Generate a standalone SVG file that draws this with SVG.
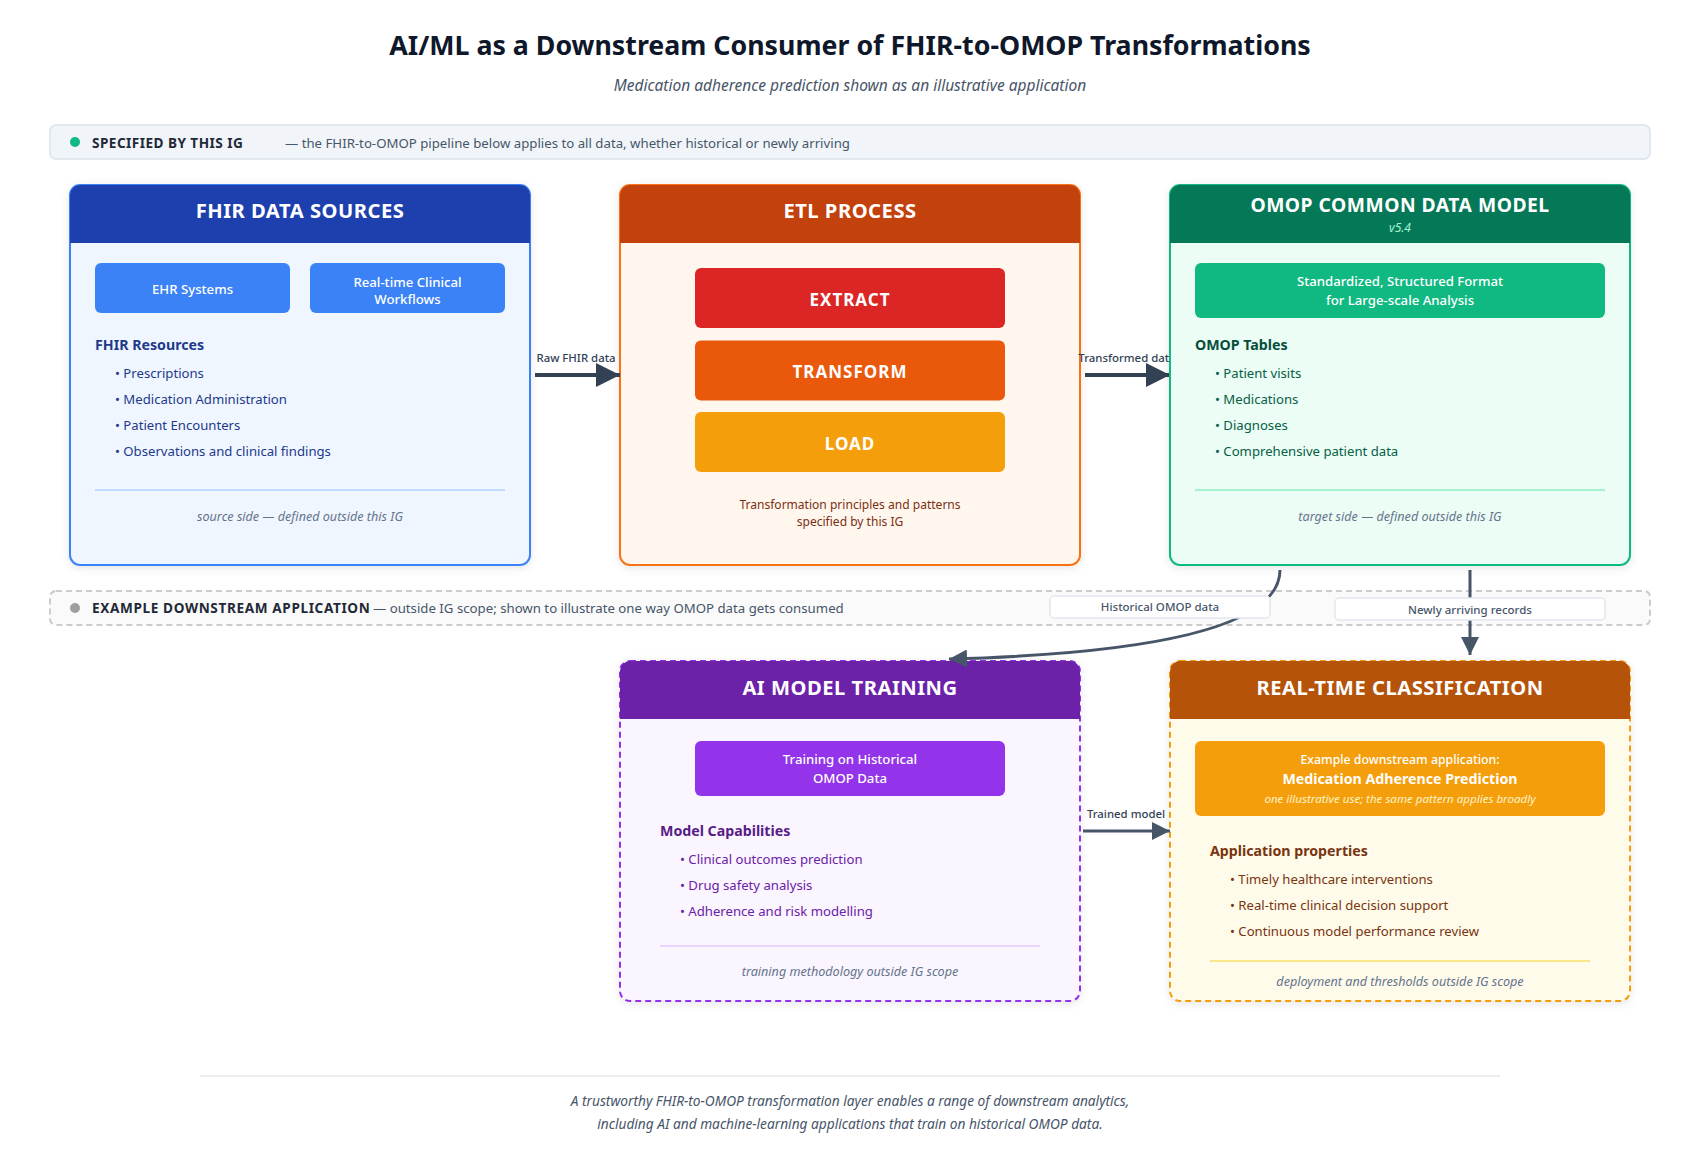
<svg xmlns="http://www.w3.org/2000/svg" width="1700" height="1150" viewBox="0 0 1700 1150">
<style>
text{font-family:"Noto Sans","Open Sans",sans-serif}
.c{text-anchor:middle}
.hd{font-size:20.200px;font-weight:700;fill:#fff;letter-spacing:.5px;text-anchor:middle}
.btn{font-size:13.200px;font-weight:500;fill:#fff;text-anchor:middle}
.etl{font-size:17px;font-weight:700;fill:#fff;letter-spacing:1px;text-anchor:middle}
.sec{font-size:14.200px;font-weight:700}
.it{font-size:13.150px}
.note{font-size:12.600px;font-style:italic;fill:#64748b;text-anchor:middle}
.lbl{font-size:11.400px;fill:#334155;font-weight:500;text-anchor:middle}
.tag{font-size:11.500px;fill:#475569;font-weight:500;text-anchor:middle}
.bt{font-size:13.600px;font-weight:700;fill:#1f2937}
.bd{font-size:13.220px;fill:#475569}
.box{stroke-width:2}
.dash{stroke-dasharray:6 4}
.arrow{fill:none;stroke:#334155;stroke-width:4}
.arrow2{fill:none;stroke:#475569;stroke-width:3}
</style>
<defs>
<filter id="sh" x="-5%" y="-5%" width="110%" height="115%"><feDropShadow dx="0" dy="2" stdDeviation="4" flood-color="#000" flood-opacity=".1"/></filter>
<marker id="a1" markerWidth="6" markerHeight="6" refX="6" refY="3" orient="auto"><path d="M0 0L6 3L0 6Z" fill="#334155"/></marker>
<marker id="a2" markerWidth="6" markerHeight="6" refX="6" refY="3" orient="auto"><path d="M0 0L6 3L0 6Z" fill="#475569"/></marker>
</defs>
<rect width="1700" height="1150" fill="#fff"/>
<g id="title">
<text class="c" x="850" y="55" font-size="26.750" font-weight="700" fill="#0f172a">AI/ML as a Downstream Consumer of FHIR-to-OMOP Transformations</text>
<text class="c" x="850" y="90.500" font-size="15.500" font-style="italic" fill="#475569">Medication adherence prediction shown as an illustrative application</text>
</g>
<g id="band-specified">
<rect x="50" y="125" width="1600" height="34" rx="6" fill="#f1f5f9" stroke="#e2e8f0" stroke-width="2"/>
<circle cx="75" cy="142" r="5" fill="#10b981"/>
<text class="bt" x="92" y="148" letter-spacing=".45">SPECIFIED BY THIS IG</text>
<text class="bd" x="285" y="148">— the FHIR-to-OMOP pipeline below applies to all data, whether historical or newly arriving</text>
</g>
<g id="band-example">
<rect x="50" y="591" width="1600" height="34" rx="6" fill="#fafafa" stroke="#ccc" stroke-width="2" stroke-dasharray="6 4"/>
<circle cx="75" cy="608" r="5" fill="#9e9e9e"/>
<text class="bt" x="92" y="613" letter-spacing=".62">EXAMPLE DOWNSTREAM APPLICATION</text>
<text class="bd" x="373" y="613">— outside IG scope; shown to illustrate one way OMOP data gets consumed</text>
</g>
<g id="fhir">
<rect class="box" x="70" y="185" width="460" height="380" rx="10" fill="#eff6ff" stroke="#3b82f6" filter="url(#sh)"/>
<path d="M70 243V195a10 10 0 0 1 10-10H520a10 10 0 0 1 10 10V243Z" fill="#1e40af"/>
<text class="hd" x="300" y="218">FHIR DATA SOURCES</text>
<rect x="95" y="263" width="195" height="50" rx="6" fill="#3b82f6"/>
<text class="btn" x="192.500" y="294">EHR Systems</text>
<rect x="310" y="263" width="195" height="50" rx="6" fill="#3b82f6"/>
<text class="btn" x="407.500" y="287">Real-time Clinical</text>
<text class="btn" x="407.500" y="304">Workflows</text>
<text class="sec" x="95" y="350" fill="#1e3a8a">FHIR Resources</text>
<text class="it" x="115" y="378" fill="#1e3a8a">• Prescriptions</text>
<text class="it" x="115" y="404" fill="#1e3a8a">• Medication Administration</text>
<text class="it" x="115" y="430" fill="#1e3a8a">• Patient Encounters</text>
<text class="it" x="115" y="456" fill="#1e3a8a">• Observations and clinical findings</text>
<line x1="95" y1="490" x2="505" y2="490" stroke="#bfdbfe" stroke-width="2"/>
<text class="note" x="300" y="521">source side — defined outside this IG</text>
</g>
<g id="etl">
<rect class="box" x="620" y="185" width="460" height="380" rx="10" fill="#fff7ed" stroke="#f97316" filter="url(#sh)"/>
<path d="M620 243V195a10 10 0 0 1 10-10H1070a10 10 0 0 1 10 10V243Z" fill="#c2410c"/>
<text class="hd" x="850" y="218">ETL PROCESS</text>
<rect x="695" y="268" width="310" height="60" rx="6" fill="#dc2626"/>
<text class="etl" x="850" y="305.500">EXTRACT</text>
<rect x="695" y="340.500" width="310" height="60" rx="6" fill="#ea580c"/>
<text class="etl" x="850" y="377.500">TRANSFORM</text>
<rect x="695" y="412" width="310" height="60" rx="6" fill="#f59e0b"/>
<text class="etl" x="850" y="449.500">LOAD</text>
<text class="c" x="850" y="509" font-size="12.050" fill="#7c2d12">Transformation principles and patterns</text>
<text class="c" x="850" y="526" font-size="12.050" fill="#7c2d12">specified by this IG</text>
</g>
<g id="training">
<rect class="box dash" x="620" y="661" width="460" height="340" rx="10" fill="#faf5ff" stroke="#9333ea" filter="url(#sh)"/>
<path d="M620 719V671a10 10 0 0 1 10-10H1070a10 10 0 0 1 10 10V719Z" fill="#6b21a8"/>
<text class="hd" x="850" y="694.500">AI MODEL TRAINING</text>
<rect x="695" y="741" width="310" height="55" rx="6" fill="#9333ea"/>
<text class="btn" x="850" y="764">Training on Historical</text>
<text class="btn" x="850" y="783">OMOP Data</text>
<text class="sec" x="660" y="836" fill="#581c87">Model Capabilities</text>
<text class="it" x="680" y="864" fill="#6b21a8">• Clinical outcomes prediction</text>
<text class="it" x="680" y="890" fill="#6b21a8">• Drug safety analysis</text>
<text class="it" x="680" y="916" fill="#6b21a8">• Adherence and risk modelling</text>
<line x1="660" y1="946" x2="1040" y2="946" stroke="#e9d5ff" stroke-width="2"/>
<text class="note" x="850" y="976">training methodology outside IG scope</text>
</g>
<g id="realtime">
<rect class="box dash" x="1170" y="661" width="460" height="340" rx="10" fill="#fffbeb" stroke="#f59e0b" filter="url(#sh)"/>
<path d="M1170 719V671a10 10 0 0 1 10-10H1620a10 10 0 0 1 10 10V719Z" fill="#b45309"/>
<text class="hd" x="1400" y="694.500">REAL-TIME CLASSIFICATION</text>
<rect x="1195" y="741" width="410" height="75" rx="6" fill="#f59e0b"/>
<text class="c" x="1400" y="764" font-size="12.300" font-weight="500" fill="#fff">Example downstream application:</text>
<text class="c" x="1400" y="784" font-size="14.200" font-weight="700" fill="#fff">Medication Adherence Prediction</text>
<text class="c" x="1400" y="803" font-size="11.550" font-style="italic" fill="#fef3c7">one illustrative use; the same pattern applies broadly</text>
<text class="sec" x="1210" y="856" fill="#78350f">Application properties</text>
<text class="it" x="1230" y="884" fill="#78350f">• Timely healthcare interventions</text>
<text class="it" x="1230" y="910" fill="#78350f">• Real-time clinical decision support</text>
<text class="it" x="1230" y="936" fill="#78350f">• Continuous model performance review</text>
<line x1="1210" y1="961" x2="1590" y2="961" stroke="#fde68a" stroke-width="2"/>
<text class="note" x="1400" y="986">deployment and thresholds outside IG scope</text>
</g>
<g id="connectors">
<path class="arrow" d="M535 375H620" marker-end="url(#a1)"/>
<text class="lbl" x="576" y="362">Raw FHIR data</text>
<path class="arrow" d="M1085 375H1170" marker-end="url(#a1)"/>
<text class="lbl" x="1127" y="362">Transformed data</text>
<path class="arrow2" d="M1280 570Q1280 650 949 659" marker-end="url(#a2)"/>
<path class="arrow2" d="M1470 570V655" marker-end="url(#a2)"/>
<path class="arrow2" d="M1083 831H1170" marker-end="url(#a2)"/>
<text class="lbl" x="1126" y="818">Trained model</text>
<rect x="1050" y="596" width="220" height="22" rx="4" fill="#fff" stroke="#e2e8f0" stroke-width="1.500"/>
<text class="tag" x="1160" y="611">Historical OMOP data</text>
<rect x="1335" y="598" width="270" height="22" rx="4" fill="#fff" stroke="#e2e8f0" stroke-width="1.500"/>
<text class="tag" x="1470" y="614">Newly arriving records</text>
</g>
<g id="omop">
<rect class="box" x="1170" y="185" width="460" height="380" rx="10" fill="#ecfdf5" stroke="#10b981" filter="url(#sh)"/>
<path d="M1170 243V195a10 10 0 0 1 10-10H1620a10 10 0 0 1 10 10V243Z" fill="#047857"/>
<text class="hd" x="1400" y="212" style="font-size:19.300px">OMOP COMMON DATA MODEL</text>
<text class="c" x="1400" y="232" font-size="12" font-style="italic" fill="#a7f3d0">v5.4</text>
<rect x="1195" y="263" width="410" height="55" rx="6" fill="#10b981"/>
<text class="btn" x="1400" y="286">Standardized, Structured Format</text>
<text class="btn" x="1400" y="305">for Large-scale Analysis</text>
<text class="sec" x="1195" y="350" fill="#064e3b">OMOP Tables</text>
<text class="it" x="1215" y="378" fill="#065f46">• Patient visits</text>
<text class="it" x="1215" y="404" fill="#065f46">• Medications</text>
<text class="it" x="1215" y="430" fill="#065f46">• Diagnoses</text>
<text class="it" x="1215" y="456" fill="#065f46">• Comprehensive patient data</text>
<line x1="1195" y1="490" x2="1605" y2="490" stroke="#a7f3d0" stroke-width="2"/>
<text class="note" x="1400" y="521">target side — defined outside this IG</text>
</g>
<g id="footer">
<line x1="200" y1="1076" x2="1500" y2="1076" stroke="#e5e7eb" stroke-width="1.500"/>
<text class="c" x="850" y="1106" font-size="13.700" font-style="italic" fill="#475569">A trustworthy FHIR-to-OMOP transformation layer enables a range of downstream analytics,</text>
<text class="c" x="850" y="1129" font-size="13.700" font-style="italic" fill="#475569">including AI and machine-learning applications that train on historical OMOP data.</text>
</g>
</svg>
